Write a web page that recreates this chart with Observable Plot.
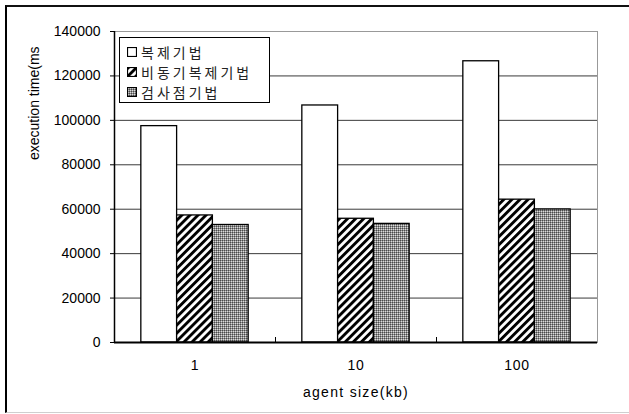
<!DOCTYPE html>
<html>
<head>
<meta charset="utf-8">
<script src="https://cdn.jsdelivr.net/npm/d3@7"></script>
<script src="https://cdn.jsdelivr.net/npm/@observablehq/plot@0.6"></script>
<style>
  html, body { margin: 0; padding: 0; background: #fff; }
  #page { position: relative; width: 629px; height: 414px; overflow: hidden; }
  #chart { position: absolute; left: 0; top: 0; }
  #border {
    position: absolute; left: 5px; top: 5px; width: 700px; height: 405px;
    border-left: 2px solid #000; border-top: 2px solid #111; border-bottom: 1px solid #cfcfcf;
    pointer-events: none;
  }
  #legend {
    position: absolute; left: 119px; top: 37px; width: 149px; height: 64px;
    border: 1px solid #000; background: #fff;
    font-family: "Noto Sans CJK KR", sans-serif; font-size: 14px; letter-spacing: 3px; color: #222;
  }
  #legend .item { position: absolute; left: 7px; height: 20px; display: flex; align-items: center; }
  #legend svg { margin-right: 4px; }
  g[aria-label="x-axis label"] text { letter-spacing: 1.3px; }
  g[aria-label="x-axis tick label"] text { letter-spacing: 0.8px; }
</style>
</head>
<body>
<svg width="0" height="0" style="position:absolute">
  <defs>
    <pattern id="hatch" patternUnits="userSpaceOnUse" width="5.7" height="5.7" patternTransform="rotate(45)">
      <rect width="5.7" height="5.7" fill="#fff"/>
      <rect width="2.9" height="5.7" fill="#000"/>
    </pattern>
    <pattern id="dots" patternUnits="userSpaceOnUse" width="2" height="2">
      <rect width="2" height="2" fill="#8e8e8e"/>
      <rect width="1" height="1" fill="#4a4a4a"/>
      <rect x="1" y="1" width="1" height="1" fill="#dadada"/>
    </pattern>
  </defs>
</svg>
<div id="page">
  <div id="chart"></div>
  <div id="legend"></div>
  <div id="border"></div>
</div>
<script>
// Agent sizes (kb) on the x axis
const sizes = ["1", "10", "100"];
// Methods compared
const methods = ["복제기법", "비동기복제기법", "검사점기법"];
// Execution time (ms) per method, one value per agent size
const replication = [97400, 106700, 126600];
const asyncReplication = [57200, 55700, 64300];
const checkpoint = [52900, 53400, 59900];
// Y axis ticks
const yTicks = [0, 20000, 40000, 60000, 80000, 100000, 120000, 140000];

const yTitle = "execution time(ms";
const xTitle = "agent size(kb)";
const fills = ["#fff", "url(#hatch)", "url(#dots)"];

// Gap between groups, measured in bar widths
const gapWidth = 1.5;
const series = [replication, asyncReplication, checkpoint];
const slot = 1 / (methods.length + gapWidth);
const rows = sizes.flatMap((size, g) => methods.map((method, s) => ({
  size, method, value: series[s][g],
  x1: g + slot * (gapWidth / 2 + s),
  x2: g + slot * (gapWidth / 2 + s + 1)
})));

const chart = Plot.plot({
  width: 629,
  height: 414,
  marginLeft: 114,
  marginRight: 32,
  marginTop: 31,
  marginBottom: 72,
  style: {fontFamily: "'Liberation Sans', Arial, sans-serif", fontSize: "14px", background: "transparent", color: "#000"},
  x: {domain: [0, sizes.length], axis: null},
  y: {domain: [0, 140000], axis: null},
  color: {domain: methods, range: fills},
  marks: [
    Plot.ruleY(yTicks.slice(1, -1), {stroke: "#3a3a3a"}),
    Plot.frame({stroke: "#999"}),
    Plot.rect(rows, {x1: "x1", x2: "x2", y1: 0, y2: "value", fill: "method", stroke: "#000", strokeWidth: 1.3}),
    Plot.ruleX(d3.range(1, sizes.length), {y1: 0, y2: 0, insetTop: -5, stroke: "#000"}),
    Plot.ruleX([0], {stroke: "#000", strokeWidth: 1.5}),
    Plot.ruleY([0], {stroke: "#000", strokeWidth: 2}),
    Plot.axisY({ticks: yTicks, tickSize: 4, tickPadding: 10, tickFormat: d => String(d), label: null}),
    Plot.axisX({
      ticks: sizes.map((_, i) => i + 0.5),
      tickFormat: v => sizes[Math.floor(v)],
      tickSize: 0, tickPadding: 18,
      label: xTitle, labelAnchor: "center", labelOffset: 54, labelArrow: "none"
    }),
    Plot.text([yTitle], {frameAnchor: "left", rotate: -90, dx: -80, dy: -27, fill: "#000"})
  ]
});
document.getElementById("chart").appendChild(chart);

// Legend inside the plot area
const legend = d3.select("#legend");
methods.forEach((m, i) => {
  const item = legend.append("div").attr("class", "item").style("top", (4 + i * 20) + "px");
  const sw = item.append("svg").attr("width", 10).attr("height", 10);
  sw.append("rect").attr("x", 0.5).attr("y", 0.5).attr("width", 9).attr("height", 9)
    .attr("fill", fills[i]).attr("stroke", "#000").attr("stroke-width", 1.2);
  item.append("span").text(m);
});
</script>
</body>
</html>
